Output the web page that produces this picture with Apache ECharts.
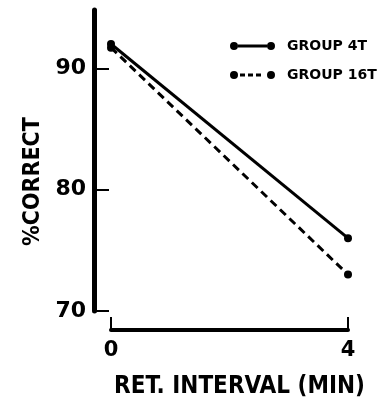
<!DOCTYPE html>
<html>
<head>
<meta charset="utf-8">
<script src="https://cdn.jsdelivr.net/npm/echarts@6/dist/echarts.min.js"></script>
<style>
html,body{margin:0;padding:0;background:#fff;}
#chart{width:379px;height:409px;}
</style>
</head>
<body>
<div id="chart"></div>
<script>
const retInterval = [0, 4];
const group4T = [92, 76];
const group16T = [91.7, 73];
const yTicks = [70, 80, 90];
const xTicks = [0, 4];
const seriesNames = ['GROUP 4T', 'GROUP 16T'];

const chart = echarts.init(document.getElementById('chart'), null, {renderer: 'canvas'});
const circL = 'M0,4a4,4 0 1,0 8,0a4,4 0 1,0 -8,0Z';
const circR = 'M37,4a4,4 0 1,0 8,0a4,4 0 1,0 -8,0Z';
const solidIcon = 'path://' + circL + circR + 'M8,2.6H37V5.4H8Z';
const dashIcon = 'path://' + circL + circR + 'M10,2.6H15V5.4H10Z M18,2.6H23V5.4H18Z M26,2.6H31V5.4H26Z';

const bold = 'DejaVu Sans';
const cond = 'DejaVu Sans Condensed';

chart.setOption({
  backgroundColor: '#fff',
  animation: false,
  grid: {left: 111, right: 31, top: 10, bottom: 98},
  legend: {
    orient: 'vertical',
    left: 230, top: 38, padding: 0,
    itemGap: 13, itemWidth: 45, itemHeight: 8,
    textStyle: {fontFamily: bold, fontWeight: 'bold', fontSize: 14, lineHeight: 16, color: '#000', padding: [0,0,0,7]},
    data: [
      {name: seriesNames[0], icon: solidIcon, itemStyle: {color: '#000'}},
      {name: seriesNames[1], icon: dashIcon, itemStyle: {color: '#000'}}
    ]
  },
  xAxis: {
    type: 'value', min: 0, max: 4, interval: 4,
    offset: 19,
    name: 'RET. INTERVAL (MIN)', nameLocation: 'middle', nameGap: 45,
    nameTextStyle: {fontFamily: cond, fontWeight: 'bold', fontSize: 24, color: '#000', padding: [0,0,0,20]},
    axisLine: {show: true, onZero: false, lineStyle: {color: '#000', width: 4}},
    axisTick: {show: true, inside: true, length: 13, lineStyle: {color: '#000', width: 2}, customValues: xTicks},
    axisLabel: {fontFamily: bold, fontWeight: 'bold', fontSize: 21, color: '#000', margin: 10, customValues: xTicks},
    splitLine: {show: false}
  },
  yAxis: {
    type: 'value', min: 70, max: 94.8, interval: 10,
    offset: 17,
    name: '%CORRECT', nameLocation: 'middle', nameGap: 42, nameRotate: 90,
    nameTextStyle: {fontFamily: cond, fontWeight: 'bold', fontSize: 23, color: '#000', padding: [0,42,0,0]},
    axisLine: {show: true, onZero: false, lineStyle: {color: '#000', width: 5}},
    axisTick: {show: true, inside: true, length: 15, lineStyle: {color: '#000', width: 2}, customValues: yTicks},
    axisLabel: {fontFamily: bold, fontWeight: 'bold', fontSize: 22, color: '#000', margin: 8, customValues: yTicks},
    splitLine: {show: false}
  },
  series: [
    {
      name: seriesNames[0], type: 'line',
      data: retInterval.map((x, i) => [x, group4T[i]]),
      symbol: 'circle', symbolSize: 8,
      lineStyle: {color: '#000', width: 3, type: 'solid'},
      itemStyle: {color: '#000'}
    },
    {
      name: seriesNames[1], type: 'line',
      data: retInterval.map((x, i) => [x, group16T[i]]),
      symbol: 'circle', symbolSize: 8,
      lineStyle: {color: '#000', width: 3, type: [8, 5]},
      itemStyle: {color: '#000'}
    }
  ]
});
</script>
</body>
</html>
